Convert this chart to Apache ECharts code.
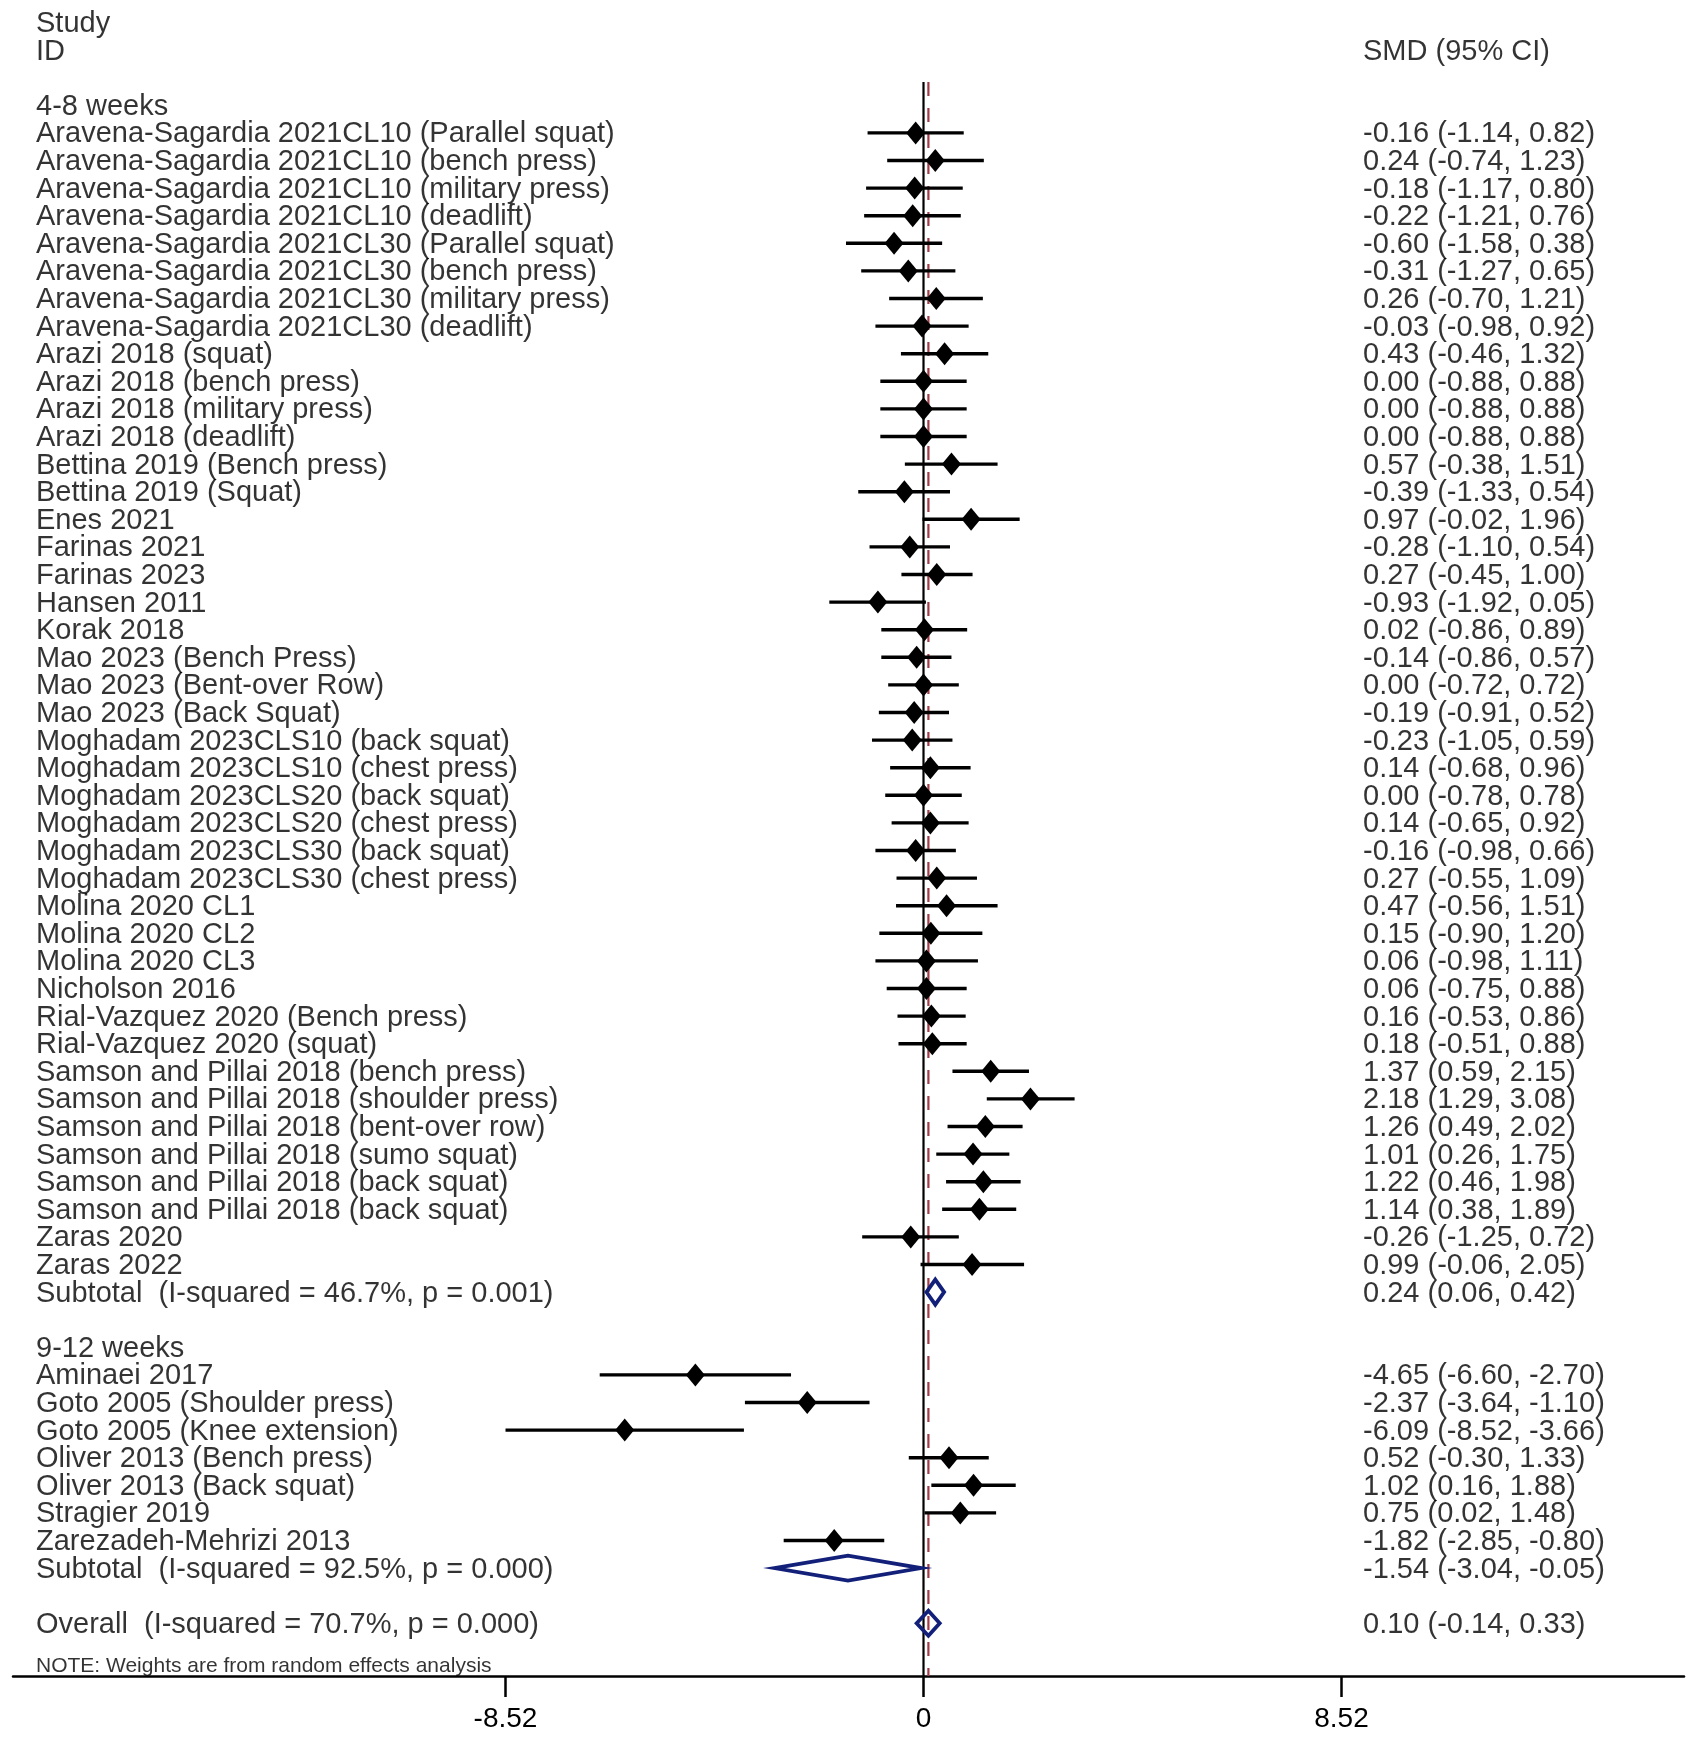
<!DOCTYPE html>
<html>
<head>
<meta charset="utf-8">
<script src="https://cdn.jsdelivr.net/npm/echarts@6/dist/echarts.min.js"></script>
<style>
html,body{margin:0;padding:0;background:#fff;}
#chart{width:1691px;height:1738px;}
</style>
</head>
<body>
<div id="chart"></div>
<script>
// ---------------- DATA ----------------
const groupTitles = ['4-8 weeks', '9-12 weeks'];

const studyLabels1 = [
  'Aravena-Sagardia 2021CL10 (Parallel squat)',
  'Aravena-Sagardia 2021CL10 (bench press)',
  'Aravena-Sagardia 2021CL10 (military press)',
  'Aravena-Sagardia 2021CL10 (deadlift)',
  'Aravena-Sagardia 2021CL30 (Parallel squat)',
  'Aravena-Sagardia 2021CL30 (bench press)',
  'Aravena-Sagardia 2021CL30 (military press)',
  'Aravena-Sagardia 2021CL30 (deadlift)',
  'Arazi 2018 (squat)',
  'Arazi 2018 (bench press)',
  'Arazi 2018 (military press)',
  'Arazi 2018 (deadlift)',
  'Bettina 2019 (Bench press)',
  'Bettina 2019 (Squat)',
  'Enes 2021',
  'Farinas 2021',
  'Farinas 2023',
  'Hansen 2011',
  'Korak 2018',
  'Mao 2023 (Bench Press)',
  'Mao 2023 (Bent-over Row)',
  'Mao 2023 (Back Squat)',
  'Moghadam 2023CLS10 (back squat)',
  'Moghadam 2023CLS10 (chest press)',
  'Moghadam 2023CLS20 (back squat)',
  'Moghadam 2023CLS20 (chest press)',
  'Moghadam 2023CLS30 (back squat)',
  'Moghadam 2023CLS30 (chest press)',
  'Molina 2020 CL1',
  'Molina 2020 CL2',
  'Molina 2020 CL3',
  'Nicholson 2016',
  'Rial-Vazquez 2020 (Bench press)',
  'Rial-Vazquez 2020 (squat)',
  'Samson and Pillai 2018 (bench press)',
  'Samson and Pillai 2018 (shoulder press)',
  'Samson and Pillai 2018 (bent-over row)',
  'Samson and Pillai 2018 (sumo squat)',
  'Samson and Pillai 2018 (back squat)',
  'Samson and Pillai 2018 (back squat)',
  'Zaras 2020',
  'Zaras 2022'
];
const smd1 = [-0.16, 0.24, -0.18, -0.22, -0.60, -0.31, 0.26, -0.03, 0.43, 0.00, 0.00, 0.00,
  0.57, -0.39, 0.97, -0.28, 0.27, -0.93, 0.02, -0.14, 0.00, -0.19, -0.23, 0.14, 0.00, 0.14,
  -0.16, 0.27, 0.47, 0.15, 0.06, 0.06, 0.16, 0.18, 1.37, 2.18, 1.26, 1.01, 1.22, 1.14, -0.26, 0.99];
const ciLow1 = [-1.14, -0.74, -1.17, -1.21, -1.58, -1.27, -0.70, -0.98, -0.46, -0.88, -0.88, -0.88,
  -0.38, -1.33, -0.02, -1.10, -0.45, -1.92, -0.86, -0.86, -0.72, -0.91, -1.05, -0.68, -0.78, -0.65,
  -0.98, -0.55, -0.56, -0.90, -0.98, -0.75, -0.53, -0.51, 0.59, 1.29, 0.49, 0.26, 0.46, 0.38, -1.25, -0.06];
const ciHigh1 = [0.82, 1.23, 0.80, 0.76, 0.38, 0.65, 1.21, 0.92, 1.32, 0.88, 0.88, 0.88,
  1.51, 0.54, 1.96, 0.54, 1.00, 0.05, 0.89, 0.57, 0.72, 0.52, 0.59, 0.96, 0.78, 0.92,
  0.66, 1.09, 1.51, 1.20, 1.11, 0.88, 0.86, 0.88, 2.15, 3.08, 2.02, 1.75, 1.98, 1.89, 0.72, 2.05];

const studyLabels2 = [
  'Aminaei 2017',
  'Goto 2005 (Shoulder press)',
  'Goto 2005 (Knee extension)',
  'Oliver 2013 (Bench press)',
  'Oliver 2013 (Back squat)',
  'Stragier 2019',
  'Zarezadeh-Mehrizi 2013'
];
const smd2 = [-4.65, -2.37, -6.09, 0.52, 1.02, 0.75, -1.82];
const ciLow2 = [-6.60, -3.64, -8.52, -0.30, 0.16, 0.02, -2.85];
const ciHigh2 = [-2.70, -1.10, -3.66, 1.33, 1.88, 1.48, -0.80];

const subtotalLabels = ['Subtotal  (I-squared = 46.7%, p = 0.001)', 'Subtotal  (I-squared = 92.5%, p = 0.000)'];
const subtotalSmd = [0.24, -1.54];
const subtotalLow = [0.06, -3.04];
const subtotalHigh = [0.42, -0.05];

const overallLabel = 'Overall  (I-squared = 70.7%, p = 0.000)';
const overallSmd = 0.10;
const overallLow = -0.14;
const overallHigh = 0.33;

const headerLeft = ['Study', 'ID'];
const headerRight = 'SMD (95% CI)';
const noteText = 'NOTE: Weights are from random effects analysis';

const xTickValues = [-8.52, 0, 8.52];
const xTickLabels = ['-8.52', '0', '8.52'];

// ---------------- LAYOUT ----------------
const W = 1691, H = 1738;
const gridLeft = 13, gridRight = 7;
const zeroPx = 923.5, pxPerUnit = 49.06;
const xMin = (gridLeft - zeroPx) / pxPerUnit;
const xMax = (W - gridRight - zeroPx) / pxPerUnit;
const rowTop = 22.5, rowPitch = 27.6;
const axisY = 1676;
const yMax = (axisY - rowTop) / rowPitch;
const leftTextX = (36 - zeroPx) / pxPerUnit;
const rightTextX = (1363 - zeroPx) / pxPerUnit;
const lineTopRow = (82 - rowTop) / rowPitch;
const FONT = 'Liberation Sans, Arial, Helvetica, sans-serif';

function fmt(v) { return v.toFixed(2); }
function ciText(e, l, h) { return fmt(e) + ' (' + fmt(l) + ', ' + fmt(h) + ')'; }

// build rows
const leftTexts = [];
const rightTexts = [];
const studyItems = [];
const pooledItems = [];

leftTexts.push([leftTextX, 0, headerLeft[0]]);
leftTexts.push([leftTextX, 1, headerLeft[1]]);
rightTexts.push([rightTextX, 1, headerRight]);

let row = 3;
const groups = [
  [studyLabels1, smd1, ciLow1, ciHigh1],
  [studyLabels2, smd2, ciLow2, ciHigh2]
];
groups.forEach((g, gi) => {
  leftTexts.push([leftTextX, row, groupTitles[gi]]);
  row++;
  g[0].forEach((lab, i) => {
    leftTexts.push([leftTextX, row, lab]);
    rightTexts.push([rightTextX, row, ciText(g[1][i], g[2][i], g[3][i])]);
    studyItems.push([g[2][i], g[3][i], g[1][i], row]);
    row++;
  });
  leftTexts.push([leftTextX, row, subtotalLabels[gi]]);
  rightTexts.push([rightTextX, row, ciText(subtotalSmd[gi], subtotalLow[gi], subtotalHigh[gi])]);
  pooledItems.push([subtotalLow[gi], subtotalHigh[gi], subtotalSmd[gi], row]);
  row += 2;
});
leftTexts.push([leftTextX, row, overallLabel]);
rightTexts.push([rightTextX, row, ciText(overallSmd, overallLow, overallHigh)]);
pooledItems.push([overallLow, overallHigh, overallSmd, row]);
const noteRow = row + 1.5;

function textSeries(data, size) {
  return {
    type: 'scatter',
    data: data,
    symbolSize: 0,
    silent: true,
    z: 5,
    label: {
      show: true,
      position: 'right',
      distance: 0,
      offset: [0, 1.5],
      formatter: p => p.data[2],
      color: '#000',
      fontFamily: FONT,
      fontSize: size
    }
  };
}

const option = {
  animation: false,
  backgroundColor: '#fff',
  grid: { left: gridLeft, right: gridRight, top: rowTop, height: yMax * rowPitch },
  xAxis: {
    type: 'value',
    min: xMin,
    max: xMax,
    splitLine: { show: false },
    axisLine: { show: true, onZero: false, lineStyle: { color: '#000', width: 2.5 } },
    axisTick: { show: true, customValues: xTickValues, length: 21, lineStyle: { color: '#000', width: 2.5 } },
    axisLabel: {
      show: true,
      customValues: xTickValues,
      formatter: v => xTickLabels[xTickValues.indexOf(v)] !== undefined ? xTickLabels[xTickValues.indexOf(v)] : '',
      color: '#000', fontFamily: FONT, fontSize: 28, margin: 29
    }
  },
  yAxis: {
    type: 'value',
    inverse: true,
    min: 0,
    max: yMax,
    show: false
  },
  series: [
    {
      type: 'line',
      data: [[0, lineTopRow], [0, yMax]],
      symbol: 'none',
      silent: true,
      z: 2,
      lineStyle: { color: '#000', width: 2.2 }
    },
    {
      type: 'line',
      data: [[overallSmd, lineTopRow], [overallSmd, yMax]],
      symbol: 'none',
      silent: true,
      z: 2,
      lineStyle: { color: '#a13a44', width: 2.2, type: [14, 12] }
    },
    {
      type: 'custom',
      data: studyItems,
      encode: { x: [0, 1, 2], y: 3 },
      z: 3,
      silent: true,
      renderItem: function (params, api) {
        const r = api.value(3);
        const a = api.coord([api.value(0), r]);
        const b = api.coord([api.value(1), r]);
        const c = api.coord([api.value(2), r]);
        return {
          type: 'group',
          children: [
            { type: 'line', shape: { x1: a[0], y1: a[1], x2: b[0], y2: b[1] }, style: { stroke: '#000', lineWidth: 3.4 } },
            { type: 'polygon', shape: { points: [[c[0] - 9.5, c[1]], [c[0], c[1] - 11.5], [c[0] + 9.5, c[1]], [c[0], c[1] + 11.5]] }, style: { fill: '#000' } }
          ]
        };
      }
    },
    {
      type: 'custom',
      data: pooledItems,
      encode: { x: [0, 1, 2], y: 3 },
      z: 4,
      silent: true,
      renderItem: function (params, api) {
        const r = api.value(3);
        const a = api.coord([api.value(0), r]);
        const b = api.coord([api.value(1), r]);
        const c = api.coord([api.value(2), r]);
        return {
          type: 'polygon',
          shape: { points: [[a[0], a[1]], [c[0], c[1] - 12.5], [b[0], b[1]], [c[0], c[1] + 12.5]] },
          style: { fill: 'none', stroke: '#13207a', lineWidth: 3.8, lineJoin: 'miter' }
        };
      }
    },
    textSeries(leftTexts, 29),
    textSeries(rightTexts, 29),
    textSeries([[leftTextX, noteRow, noteText]], 21)
  ]
};

const chart = echarts.init(document.getElementById('chart'), null, { renderer: 'canvas', width: W, height: H });
chart.setOption(option);
</script>
</body>
</html>
